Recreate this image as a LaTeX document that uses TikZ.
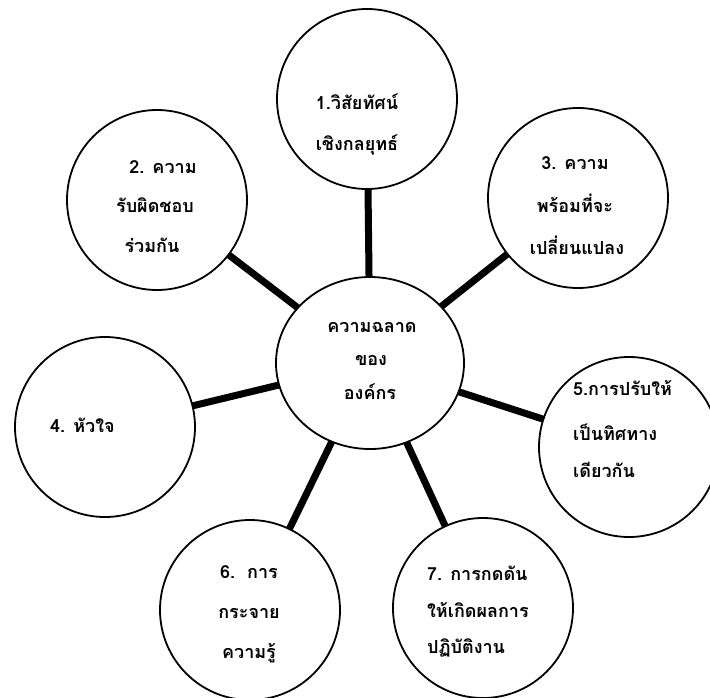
\documentclass[tikz,border=0pt]{standalone}
\usepackage{fontspec}
\newfontfamily\thaifont[Script=Thai]{Loma}
\usetikzlibrary{shapes.geometric}
\tikzset{
  bubble/.style={draw, circle, line width=1.8pt, minimum size=180pt, inner sep=0pt, outer sep=0pt},
  hub/.style={draw, ellipse, line width=1.8pt, minimum width=188pt, minimum height=172pt, inner sep=0pt, outer sep=0pt},
  conn/.style={line width=7pt, line cap=butt},
  txt/.style={font=\thaifont\bfseries\fontsize{18}{20}\selectfont, inner sep=0pt, anchor=center},
  txtl/.style={txt, anchor=west}
}
\begin{document}
\begin{tikzpicture}[x=1pt,y=-1pt]
\useasboundingbox (0,0) rectangle (710,697);
\clip (0,0) rectangle (710,697);
\fill[white] (0,0) rectangle (710,697);
\node[hub] (c) at (370,363) {};
\node[bubble] (n1) at (367,99) {};
\node[bubble] (n2) at (157,200) {};
\node[bubble] (n3) at (578,198) {};
\node[bubble] (n4) at (105,427) {};
\node[bubble] (n5) at (629,447) {};
\node[bubble] (n6) at (250,610) {};
\node[bubble] (n7) at (483,608) {};
\foreach \n in {n1,n2,n3,n4,n5,n6,n7} \draw[conn] (c) -- (\n);
% texts
\node[txt] (t1a) at (357,102) {1.วิสัยทัศน์};
\node[txt] (t1b) at (357,145) {เชิงกลยุทธ์};
\node[txt] (t2a) at (163,167) {2. ความ};
\node[txt] (t2b) at (155,205) {รับผิดชอบ};
\node[txt] (t2c) at (152,245) {ร่วมกัน};
\node[txt] (t3a) at (575,163) {3. ความ};
\node[txt] (t3b) at (575,203) {พร้อมที่จะ};
\node[txt] (t3c) at (577,245) {เปลี่ยนแปลง};
\node[txt] (tca) at (372,328) {ความฉลาด};
\node[txt] (tcb) at (371,360) {ของ};
\node[txt] (tcc) at (370,392) {องค์กร};
\node[txtl] (t4a) at (50,425) {4. หัวใจ};
\node[txtl] (t5a) at (573,388) {5.การปรับให้};
\node[txtl] (t5b) at (573,432) {เป็นทิศทาง};
\node[txtl] (t5c) at (573,470) {เดียวกัน};
\node[txt] (t6a) at (249,572) {6.\ \ การ};
\node[txt] (t6b) at (249,613) {กระจาย};
\node[txt] (t6c) at (249,653) {ความรู้};
\node[txtl] (t7a) at (427,573) {7. การกดดัน};
\node[txtl] (t7b) at (427,610) {ให้เกิดผลการ};
\node[txtl] (t7c) at (427,648) {ปฏิบัติงาน};
\end{tikzpicture}
\end{document}
